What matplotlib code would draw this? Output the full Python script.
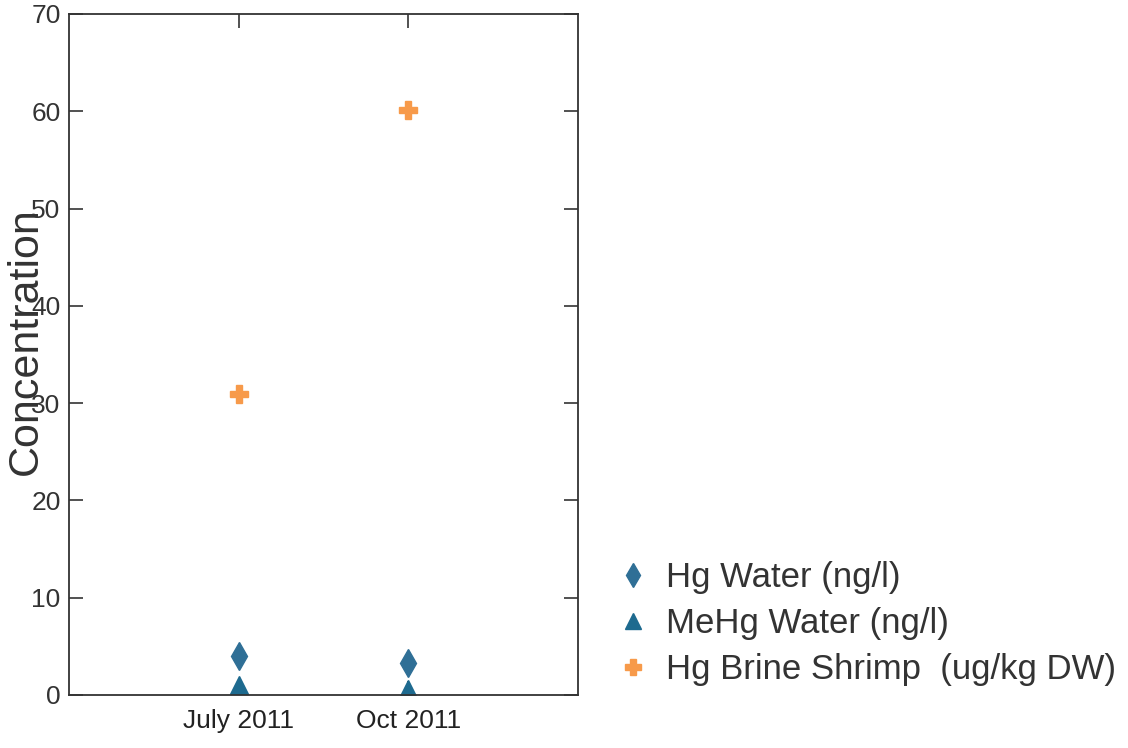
import matplotlib.pyplot as plt

# dates sampled and measured concentrations
dates = ["July 2011", "Oct 2011"]
hg_water = [4.0, 3.3]          # ng/l
mehg_water = [1.0, 0.6]        # ng/l
hg_shrimp = [30.9, 60.1]       # ug/kg DW

plt.rcParams["font.family"] = ["Liberation Sans", "DejaVu Sans"]

fig = plt.figure(figsize=(11.28, 7.48), dpi=100)
ax = fig.add_axes([0.0612, 0.0709, 0.4512, 0.9104])

x = list(range(1, len(dates) + 1))
ax.plot(x, hg_water, ls="none", marker="d", ms=14, color="#2f6f96",
        label="Hg Water (ng/l)")
ax.plot(x, mehg_water, ls="none", marker="^", ms=13, color="#1d6a8f",
        label="MeHg Water (ng/l)")
ax.plot(x, hg_shrimp, ls="none", marker="P", ms=13, color="#f79a4a",
        label="Hg Brine Shrimp  (ug/kg DW)")

ax.set_xlim(0, 3)
ax.set_ylim(0, 70)
ax.set_xticks(x)
ax.set_xticklabels(dates)
ax.set_yticks(range(0, 71, 10))
ax.tick_params(direction="in", top=True, right=True, length=10, width=1.2,
               labelsize=19, colors="#333333", pad=6)
ax.tick_params(axis="x", labelcolor="#222222", pad=10)
for s in ax.spines.values():
    s.set_linewidth(1.3)
    s.set_color("#333333")
# in the original the label sits over the tick numbers
ax.set_ylabel("Concentration", fontsize=31, color="#333333")
ax.yaxis.set_label_coords(-0.045, 0.52)

ax.legend(loc="center left", bbox_to_anchor=(1.02, 0.105), frameon=False,
          fontsize=25, handlelength=0.8, handletextpad=0.55, labelspacing=0.38,
          labelcolor="#333333", markerscale=0.9)

fig.savefig("out.png")
